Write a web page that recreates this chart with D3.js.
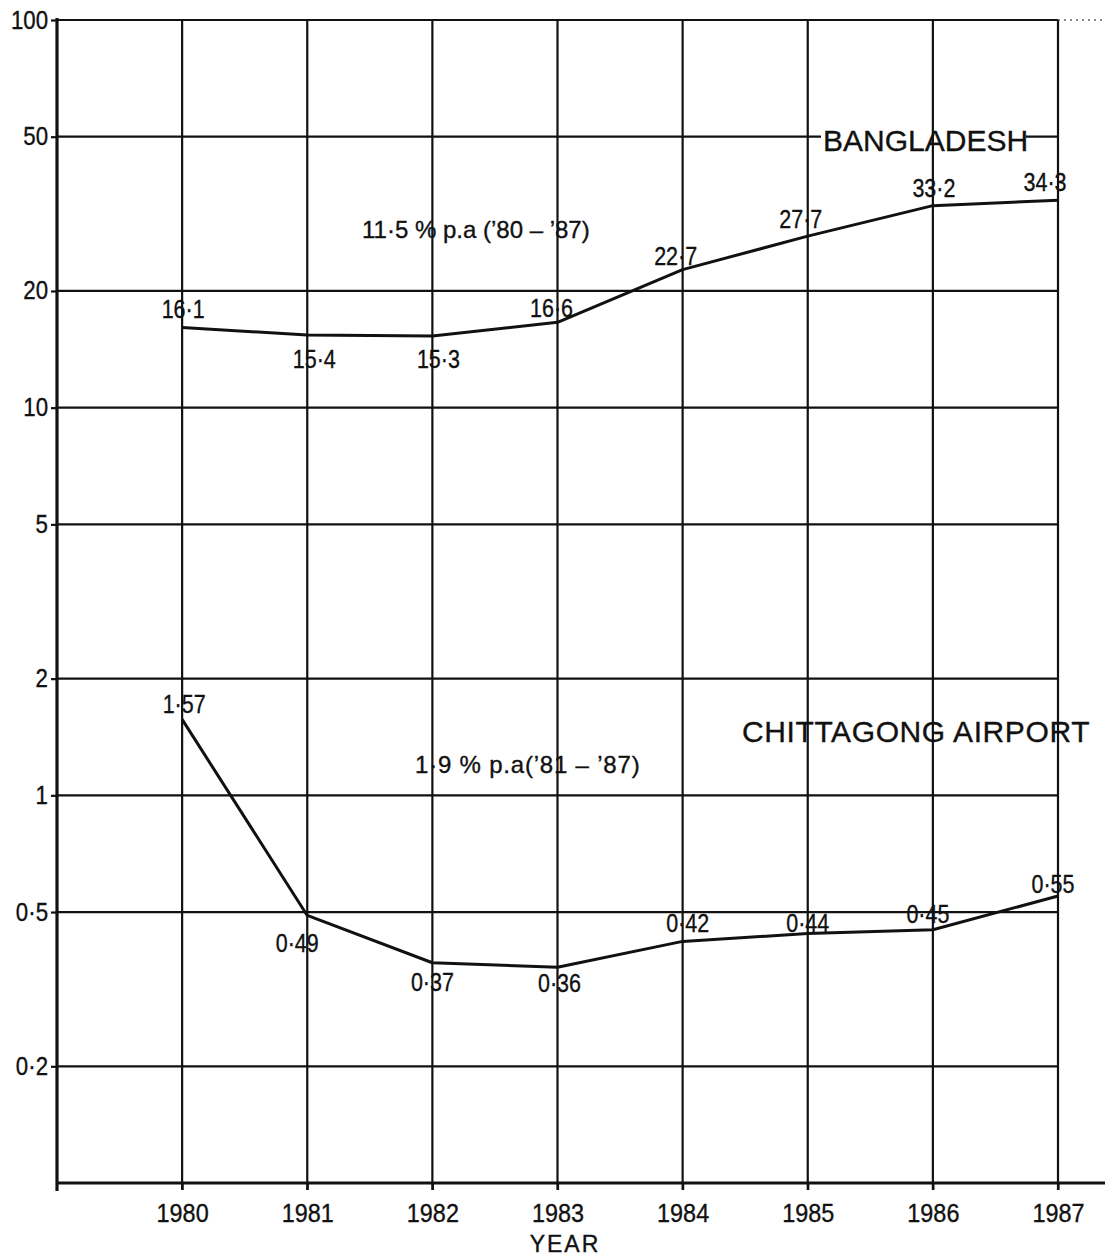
<!DOCTYPE html>
<html>
<head>
<meta charset="utf-8">
<script src="https://cdn.jsdelivr.net/npm/d3@7/dist/d3.min.js"></script>
<style>
  html, body { margin: 0; padding: 0; background: #fff; }
  svg { display: block; }
  text { font-family: "Liberation Sans", Arial, sans-serif; fill: #111; stroke: #111; stroke-width: 0.35px; }
</style>
</head>
<body>
<svg id="chart" width="1105" height="1257"></svg>
<script>
// Passenger traffic (millions), log scale
const years = [1980, 1981, 1982, 1983, 1984, 1985, 1986, 1987];
const bangladesh = [16.1, 15.4, 15.3, 16.6, 22.7, 27.7, 33.2, 34.3];
const chittagong = [1.57, 0.49, 0.37, 0.36, 0.42, 0.44, 0.45, 0.55];
const yTicks = [0.2, 0.5, 1, 2, 5, 10, 20, 50, 100];
const seriesNames = ["BANGLADESH", "CHITTAGONG AIRPORT"];
const growthNotes = ["11·5 % p.a (’80 – ’87)", "1·9 % p.a(’81 – ’87)"];
const xTitle = "YEAR";

// decimal point written as a raised dot
const fmt = v => String(v).replace(".", "·");

const svg = d3.select("#chart");
const plotLeft = 57, plotRight = 1058, plotTop = 20, plotBottom = 1183;

const x = d3.scaleLinear().domain([1979, 1987]).range([plotLeft, plotRight]);
const y = d3.scaleLog().domain([0.1, 100]).range([plotBottom, plotTop]);

const ink = "#111";

// horizontal grid
svg.append("g").selectAll("line").data(yTicks).join("line")
  .attr("x1", plotLeft).attr("x2", plotRight)
  .attr("y1", d => y(d)).attr("y2", d => y(d))
  .attr("stroke", ink).attr("stroke-width", 2.2);
// dotted run-out of the top rule
svg.append("line")
  .attr("x1", plotRight).attr("x2", 1105)
  .attr("y1", y(100)).attr("y2", y(100))
  .attr("stroke", ink).attr("stroke-width", 1.2)
  .attr("stroke-dasharray", "2,4");

// white knock-out behind the country label, breaking the 50 rule
const bgl = { x: 823, y: 151 };
svg.append("rect")
  .attr("x", bgl.x - 2).attr("y", bgl.y - 25)
  .attr("width", 205).attr("height", 27)
  .attr("fill", "#fff");

// vertical grid
svg.append("g").selectAll("line").data(years).join("line")
  .attr("x1", d => x(d)).attr("x2", d => x(d))
  .attr("y1", y(100)).attr("y2", plotBottom + 7)
  .attr("stroke", ink).attr("stroke-width", 2.2);

// bottom axis
const xAxis = d3.axisBottom(x)
  .tickValues(years)
  .tickSize(7)
  .tickSizeOuter(0)
  .tickFormat(d3.format("d"));
const gx = svg.append("g").attr("transform", `translate(0,${plotBottom})`).call(xAxis);
gx.select(".domain").remove();
gx.selectAll(".tick line").attr("stroke", ink).attr("stroke-width", 2.2);
gx.selectAll(".tick text")
  .attr("x", 0).attr("y", 21).attr("dy", "0.71em")
  .attr("transform", "scale(0.9,1)")
  .style("font-size", "26px").style("font-family", "Liberation Sans, Arial, sans-serif")
  .attr("fill", ink);
svg.append("line")
  .attr("x1", plotLeft).attr("x2", 1105)
  .attr("y1", plotBottom).attr("y2", plotBottom)
  .attr("stroke", ink).attr("stroke-width", 2.8);

// left axis
const yAxis = d3.axisLeft(y)
  .tickValues(yTicks)
  .tickSize(6)
  .tickSizeOuter(0)
  .tickFormat(fmt);
const gy = svg.append("g").attr("transform", `translate(${plotLeft},0)`).call(yAxis);
gy.select(".domain").remove();
gy.selectAll(".tick line").attr("stroke", ink).attr("stroke-width", 2.2);
gy.selectAll(".tick text")
  .attr("x", -9 / 0.89)
  .attr("transform", "scale(0.89,1)")
  .style("font-size", "25px").style("font-family", "Liberation Sans, Arial, sans-serif")
  .attr("fill", ink);
svg.append("line")
  .attr("x1", plotLeft).attr("x2", plotLeft)
  .attr("y1", plotTop - 2).attr("y2", plotBottom + 8)
  .attr("stroke", ink).attr("stroke-width", 3.2);

// series lines
const line = d3.line().x(d => x(d[0])).y(d => y(d[1]));
const ptsB = years.map((yr, i) => [yr, bangladesh[i]]);
const ptsC = years.map((yr, i) => [yr, chittagong[i]]);
[ptsB, ptsC].forEach(pts => {
  svg.append("path").datum(pts)
    .attr("d", line)
    .attr("fill", "none")
    .attr("stroke", ink)
    .attr("stroke-width", 3)
    .attr("stroke-linejoin", "round");
});

// value label offsets (dx, dy of baseline from the point)
const offB = [[1, -9], [7, 33], [6, 32], [-6, -5], [-7, -5], [-7, -8], [1, -9], [-13, -9]];
const offC = [[2, -6], [-10, 37], [0, 28], [2, 25], [5, -9], [0, -2], [-5, -7], [-5, -3]];

function valueLabels(pts, offs) {
  svg.append("g").selectAll("text").data(pts).join("text")
    .attr("transform", (d, i) =>
      `translate(${x(d[0]) + offs[i][0]},${y(d[1]) + offs[i][1]}) scale(0.86,1)`)
    .attr("text-anchor", "middle")
    .style("font-size", "25px")
    .text(d => fmt(d[1]));
}
valueLabels(ptsB, offB);
valueLabels(ptsC, offC);

// series names
svg.append("text")
  .attr("x", bgl.x).attr("y", bgl.y)
  .style("font-size", "30px")
  .text(seriesNames[0]);
svg.append("text")
  .attr("x", 742).attr("y", 742)
  .style("font-size", "30px")
  .style("letter-spacing", "0.6px")
  .text(seriesNames[1]);

// growth-rate notes
svg.append("text")
  .attr("x", 362).attr("y", 238)
  .style("font-size", "24px")
  .text(growthNotes[0]);
svg.append("text")
  .attr("x", 415).attr("y", 773)
  .style("font-size", "24px")
  .style("letter-spacing", "0.8px")
  .text(growthNotes[1]);

// axis title
svg.append("text")
  .attr("x", 565).attr("y", 1252)
  .attr("text-anchor", "middle")
  .style("font-size", "23px")
  .style("letter-spacing", "2px")
  .text(xTitle);
</script>
</body>
</html>
